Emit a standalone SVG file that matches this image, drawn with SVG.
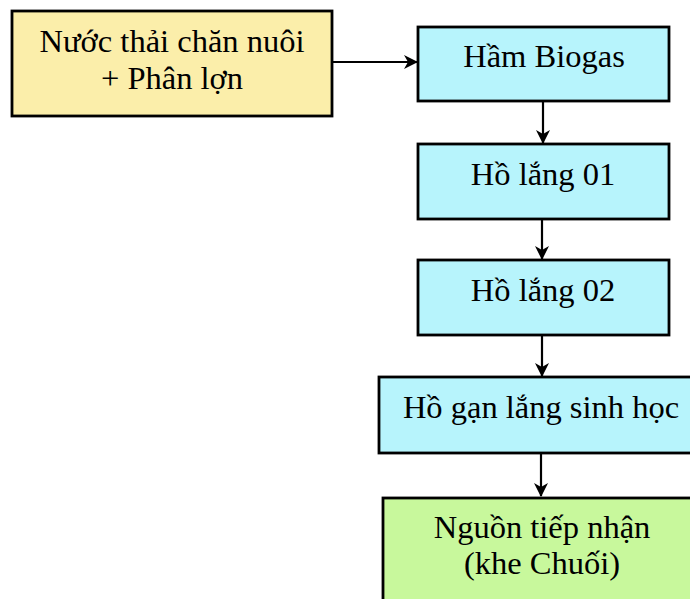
<svg xmlns="http://www.w3.org/2000/svg" width="690" height="599" viewBox="0 0 690 599">
<defs>
<marker id="ah" viewBox="0 0 14 14" refX="13" refY="7" markerWidth="14" markerHeight="14" markerUnits="userSpaceOnUse" orient="auto">
<path d="M0,0 L14,7 L0,14 L4,7 Z" fill="#000"/>
</marker>
</defs>
<style>
.box{stroke:#000;stroke-width:2.8}
.y{fill:#FBEEAA}
.c{fill:#B7F4FC}
.g{fill:#C8F89C}
text{font-family:"Liberation Serif","Times New Roman",serif;font-size:32.5px;fill:#000;text-anchor:middle}
.conn line{stroke:#000;stroke-width:2.2;marker-end:url(#ah)}
</style>
<rect width="690" height="599" fill="#fff"/>
<g id="n1"><rect class="box y" x="12" y="11" width="320" height="105"/><text x="172" y="52">Nước thải chăn nuôi</text><text x="172" y="89">+ Phân lợn</text></g>
<g id="n2"><rect class="box c" x="418" y="27" width="251" height="74"/><text x="544" y="67">Hầm Biogas</text></g>
<g id="n3"><rect class="box c" x="418" y="144" width="251" height="75"/><text x="543" y="185">Hồ lắng 01</text></g>
<g id="n4"><rect class="box c" x="418" y="260" width="251" height="75"/><text x="543" y="301">Hồ lắng 02</text></g>
<g id="n5"><rect class="box c" x="379" y="377" width="320" height="76"/><text x="541" y="418">Hồ gạn lắng sinh học</text></g>
<g id="n6"><rect class="box g" x="383" y="498" width="320" height="120"/><text x="542" y="538">Nguồn tiếp nhận</text><text x="542" y="574">(khe Chuối)</text></g>
<g class="conn">
<line x1="332" y1="62" x2="417" y2="62"/>
<line x1="543" y1="101" x2="543" y2="143"/>
<line x1="542" y1="219" x2="542" y2="259"/>
<line x1="542" y1="335" x2="542" y2="376"/>
<line x1="541" y1="453" x2="541" y2="496"/>
</g>
</svg>
